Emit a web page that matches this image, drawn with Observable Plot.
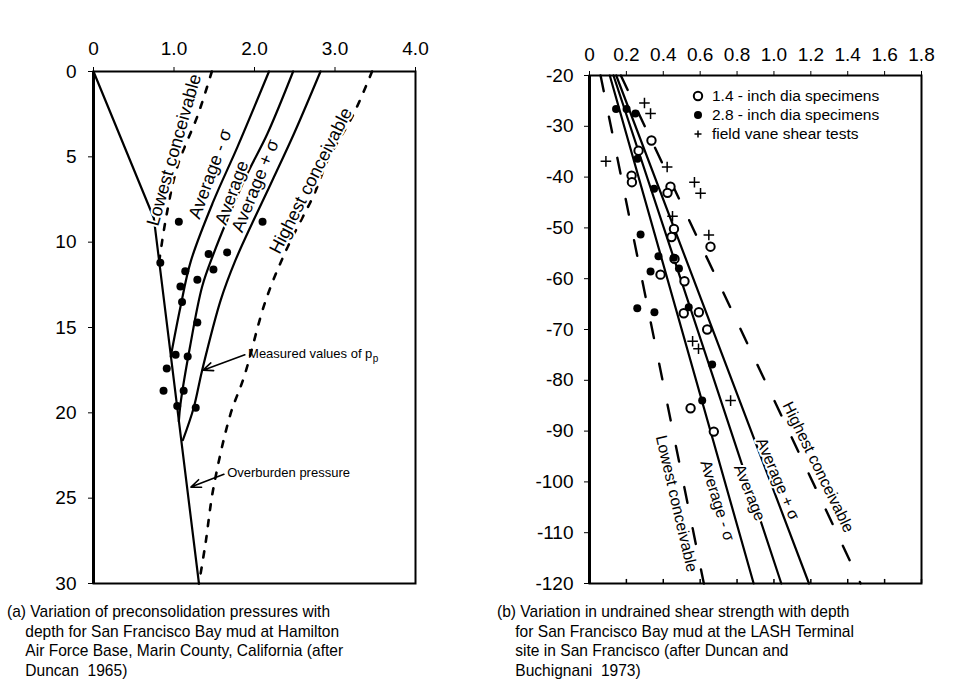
<!DOCTYPE html>
<html><head><meta charset="utf-8">
<script src="https://cdn.jsdelivr.net/npm/d3@7"></script>
<script src="https://cdn.jsdelivr.net/npm/@observablehq/plot@0.6"></script>
<style>
body{margin:0;background:#fff;}
#root{position:relative;width:971px;height:693px;overflow:hidden;font-family:"Liberation Sans",Arial,sans-serif;color:#000;background:#fff;}
.abs{position:absolute;}
.title{font-size:19px;white-space:nowrap;}
.vt{font-size:19px;white-space:nowrap;transform:translate(-50%,-50%) rotate(-90deg);}
.cap{font-family:"Liberation Sans",Arial,sans-serif;font-size:17px;line-height:19.5px;white-space:nowrap;transform:scaleX(0.915);transform-origin:0 0;}
.cap .ind{padding-left:20px;}
.leg{font-size:15.5px;white-space:nowrap;display:flex;align-items:center;height:19px;}
.leg svg{margin-right:5px;}
sub{font-size:13px;vertical-align:-4px;}
</style></head><body>
<div id="root">
  <div class="abs title" style="left:235px;top:5px;transform:translateX(-50%)">Effective stress - p' - ksf</div>
  <div class="abs title" style="left:751px;top:7px;transform:translateX(-50%)">Undrained shear strength&nbsp; - S<sub>u</sub> - ksf</div>
  <div class="abs vt" style="left:18px;top:327px;">Depth - ft</div>
  <div class="abs vt" style="left:524px;top:329px;">Elevation - ft - MLLW</div>
  <div id="left" class="abs" style="left:0;top:0"></div>
  <div id="right" class="abs" style="left:490px;top:0"></div>
  <div id="legend" class="abs" style="left:691px;top:86.5px"></div>
  <div class="abs cap" style="left:7px;top:602px">(a) Variation of preconsolidation pressures with<br><span class="ind">depth for San Francisco Bay mud at Hamilton</span><br><span class="ind">Air Force Base, Marin County, California (after</span><br><span class="ind">Duncan&nbsp; 1965)</span></div>
  <div class="abs cap" style="left:497px;top:602px">(b) Variation in undrained shear strength with depth<br><span class="ind">for San Francisco Bay mud at the LASH Terminal</span><br><span class="ind">site in San Francisco (after Duncan and</span><br><span class="ind">Buchignani&nbsp; 1973)</span></div>
</div>
<script>
// ---------- Panel (a): effective stress (ksf) vs depth (ft) ----------
const stressTicks = [0, 1, 2, 3, 4];
const depthTicks = [0, 5, 10, 15, 20, 25, 30];

const overburden = [{s: 0, d: 0}, {s: 0.75, d: 8.6}, {s: 1.31, d: 30}];
const avgMinusSigmaA = [{s: 2.18, d: 0}, {s: 1.79, d: 4.4}, {s: 1.49, d: 7.6}, {s: 1.21, d: 11.1}, {s: 1.08, d: 13.8}, {s: 0.96, d: 16.7}];
const averageA = [{s: 2.48, d: 0}, {s: 2.16, d: 3.65}, {s: 1.91, d: 6.0}, {s: 1.66, d: 8.7}, {s: 1.49, d: 10.7}, {s: 1.35, d: 12.6}, {s: 1.2, d: 16.1}, {s: 1.08, d: 19.5}, {s: 1.06, d: 20.5}];
const avgPlusSigmaA = [{s: 2.82, d: 0}, {s: 2.49, d: 3.65}, {s: 2.24, d: 6.2}, {s: 1.99, d: 8.7}, {s: 1.76, d: 11.1}, {s: 1.58, d: 13.4}, {s: 1.35, d: 17.5}, {s: 1.245, d: 19.7}, {s: 1.11, d: 21.6}];
const lowestA = [{s: 1.47, d: 0}, {s: 1.30, d: 2.5}, {s: 1.04, d: 5.6}, {s: 0.90, d: 8.6}, {s: 0.82, d: 11}];
const highestA = [{s: 3.46, d: 0}, {s: 3.23, d: 2.5}, {s: 2.91, d: 5.2}, {s: 2.74, d: 7.2}, {s: 2.41, d: 10.3}, {s: 2.14, d: 13.4}, {s: 1.87, d: 17.9}, {s: 1.70, d: 20.1}, {s: 1.49, d: 24.4}, {s: 1.39, d: 27.7}, {s: 1.31, d: 30}];
const measuredStress = [1.06, 2.10, 0.83, 1.43, 1.66, 1.14, 1.49, 1.29, 1.08, 1.10, 1.29, 1.02, 1.17, 0.91, 0.87, 1.12, 1.04, 1.27];
const measuredDepth = [8.8, 8.8, 11.2, 10.7, 10.6, 11.7, 11.6, 12.2, 12.6, 13.5, 14.7, 16.6, 16.7, 17.4, 18.7, 18.7, 19.6, 19.7];

const curveLabelsA = [
  {text: "Lowest conceivable", s: 1.0, d: 4.6, r: -74},
  {text: "Average - σ", s: 1.45, d: 6.0, r: -70},
  {text: "Average", s: 1.72, d: 7.1, r: -70},
  {text: "Average + σ", s: 2.01, d: 6.7, r: -68},
  {text: "Highest conceivable", s: 2.70, d: 6.4, r: -63}
];
const calloutsA = [
  {text: "Measured values of p", s: 1.92, d: 16.55, s1: 1.88, d1: 16.6, s2: 1.36, d2: 17.5},
  {text: "Overburden pressure", s: 1.66, d: 23.5, s1: 1.62, d1: 23.6, s2: 1.21, d2: 24.35}
];
const subscriptA = [{text: "p", s: 3.47, d: 16.55}];

const measured = measuredStress.map((s, i) => ({s, d: measuredDepth[i]}));
const fmt1 = d => d === 0 ? "0" : d.toFixed(1);
const font = "Liberation Sans, Arial, sans-serif";

const left = Plot.plot({
  width: 480, height: 600,
  marginLeft: 93, marginRight: 65, marginTop: 71, marginBottom: 17,
  style: {fontFamily: font, fontSize: "19px", background: "white", color: "black", overflow: "visible"},
  x: {domain: [0, 4], axis: "top", ticks: stressTicks, tickFormat: fmt1, tickSize: 5, tickPadding: 12, label: null},
  y: {domain: [0, 30], reverse: true, ticks: depthTicks, tickSize: 5, tickPadding: 12, label: null},
  marks: [
    Plot.line(overburden, {x: "s", y: "d", strokeWidth: 2.2}),
    Plot.line(avgMinusSigmaA, {x: "s", y: "d", strokeWidth: 2.2, curve: "catmull-rom"}),
    Plot.line(averageA, {x: "s", y: "d", strokeWidth: 2.2, curve: "catmull-rom"}),
    Plot.line(avgPlusSigmaA, {x: "s", y: "d", strokeWidth: 2.2, curve: "catmull-rom"}),
    Plot.line(lowestA, {x: "s", y: "d", strokeWidth: 2.6, strokeDasharray: "6,10", curve: "catmull-rom"}),
    Plot.line(highestA, {x: "s", y: "d", strokeWidth: 2.6, strokeDasharray: "6,10", curve: "catmull-rom"}),
    Plot.text(curveLabelsA, {x: "s", y: "d", text: "text", rotate: "r", fontSize: 18, fill: "black", stroke: "white", strokeWidth: 4, paintOrder: "stroke"}),
    Plot.dot(measured, {x: "s", y: "d", r: 4, fill: "black", stroke: "none"}),
    Plot.arrow(calloutsA, {x1: "s1", y1: "d1", x2: "s2", y2: "d2", strokeWidth: 1.6, headLength: 10, headAngle: 45, stroke: "black"}),
    Plot.text(calloutsA, {x: "s", y: "d", text: "text", textAnchor: "start", fontSize: 13, fill: "black"}),
    Plot.text(subscriptA, {x: "s", y: "d", text: "text", textAnchor: "start", dy: 5, fontSize: 10, fill: "black"}),
    Plot.frame({strokeWidth: 2}),
    Plot.ruleX([0], {strokeWidth: 3})
  ]
});
document.getElementById("left").append(left);

// ---------- Panel (b): undrained shear strength (ksf) vs elevation (ft MLLW) ----------
const strengthTicks = [0, 0.2, 0.4, 0.6, 0.8, 1.0, 1.2, 1.4, 1.6, 1.8];
const elevationTicks = [-20, -30, -40, -50, -60, -70, -80, -90, -100, -110, -120];

const lowestB = [{v: 0.06, e: -20}, {v: 0.62, e: -120}];
const avgMinusSigmaB = [{v: 0.11, e: -20}, {v: 0.89, e: -120}];
const averageB = [{v: 0.13, e: -20}, {v: 1.04, e: -120}];
const avgPlusSigmaB = [{v: 0.145, e: -20}, {v: 1.19, e: -120}];
const highestB = [{v: 0.17, e: -20}, {v: 1.47, e: -120}];

const small14Strength = [0.336, 0.266, 0.228, 0.230, 0.439, 0.423, 0.458, 0.445, 0.656, 0.461, 0.385, 0.515, 0.511, 0.593, 0.638, 0.548, 0.674];
const small14Elev = [-32.8, -34.8, -39.7, -41.0, -41.9, -43.1, -50.2, -51.8, -53.7, -56.1, -59.2, -60.5, -66.8, -66.6, -70.0, -85.5, -90.1];
const large28Strength = [0.144, 0.201, 0.249, 0.260, 0.350, 0.277, 0.374, 0.457, 0.485, 0.331, 0.259, 0.352, 0.538, 0.665, 0.611];
const large28Elev = [-26.6, -26.6, -27.5, -36.4, -42.3, -51.3, -55.6, -55.9, -58.0, -58.6, -65.8, -66.6, -65.6, -76.9, -84.0];
const vaneStrength = [0.298, 0.331, 0.089, 0.421, 0.569, 0.602, 0.450, 0.647, 0.559, 0.591, 0.765];
const vaneElev = [-25.4, -27.5, -36.9, -38.0, -41.0, -43.2, -47.7, -51.4, -72.3, -73.8, -84.0];

const legendLabels = ["1.4 - inch dia specimens", "2.8 - inch dia specimens", "field vane shear tests"];
const curveLabelsB = [
  {text: "Highest conceivable", v: 1.24, e: -97.1, r: 64},
  {text: "Average + σ", v: 1.02, e: -99.4, r: 67},
  {text: "Average", v: 0.868, e: -102.1, r: 68},
  {text: "Average - σ", v: 0.693, e: -103.7, r: 73},
  {text: "Lowest conceivable", v: 0.472, e: -104.3, r: 77}
];

const zip = (xs, ys) => xs.map((v, i) => ({v, e: ys[i]}));
const hyphen = d => d < 0 ? "-" + Math.abs(d) : String(d);

const right = Plot.plot({
  width: 481, height: 600,
  marginLeft: 99, marginRight: 50, marginTop: 75, marginBottom: 17,
  style: {fontFamily: font, fontSize: "19px", background: "white", color: "black", overflow: "visible"},
  x: {domain: [0, 1.8], axis: "top", ticks: strengthTicks, tickFormat: fmt1, tickSize: 5, tickPadding: 10, label: null},
  y: {domain: [-120, -20], ticks: elevationTicks, tickFormat: hyphen, tickSize: 5, tickPadding: 11, label: null},
  marks: [
    Plot.line(lowestB, {x: "v", y: "e", strokeWidth: 2.4, strokeDasharray: "16,26"}),
    Plot.line(highestB, {x: "v", y: "e", strokeWidth: 2.4, strokeDasharray: "16,24"}),
    Plot.line(avgMinusSigmaB, {x: "v", y: "e", strokeWidth: 2.2}),
    Plot.line(averageB, {x: "v", y: "e", strokeWidth: 2.2}),
    Plot.line(avgPlusSigmaB, {x: "v", y: "e", strokeWidth: 2.2}),
    Plot.text(curveLabelsB, {x: "v", y: "e", text: "text", rotate: "r", fontSize: 16, fill: "black", stroke: "white", strokeWidth: 4, paintOrder: "stroke"}),
    Plot.dot(zip(small14Strength, small14Elev), {x: "v", y: "e", r: 4.2, fill: "white", stroke: "black", strokeWidth: 2}),
    Plot.dot(zip(large28Strength, large28Elev), {x: "v", y: "e", r: 4, fill: "black", stroke: "none"}),
    Plot.dot(zip(vaneStrength, vaneElev), {x: "v", y: "e", r: 3.5, symbol: "plus", stroke: "black", strokeWidth: 1.5}),
    Plot.ruleX(strengthTicks, {y1: -120, y2: -119.2, strokeWidth: 1.5}),
    Plot.frame({strokeWidth: 2}),
    Plot.ruleX([0], {strokeWidth: 3})
  ]
});
document.getElementById("right").append(right);

// ---------- legend (panel b) ----------
const legendSymbols = [
  '<circle cx="7" cy="7" r="4.2" fill="white" stroke="black" stroke-width="2"/>',
  '<circle cx="7" cy="7" r="4" fill="black"/>',
  '<path d="M3.5,7H10.5M7,3.5V10.5" stroke="black" stroke-width="1.5"/>'
];
const legend = document.getElementById("legend");
legendLabels.forEach((lab, i) => {
  const row = document.createElement("div");
  row.className = "leg";
  row.innerHTML = `<svg width="14" height="14">${legendSymbols[i]}</svg><span style="margin-left:2px">${lab}</span>`;
  legend.append(row);
});
</script>
</body></html>
